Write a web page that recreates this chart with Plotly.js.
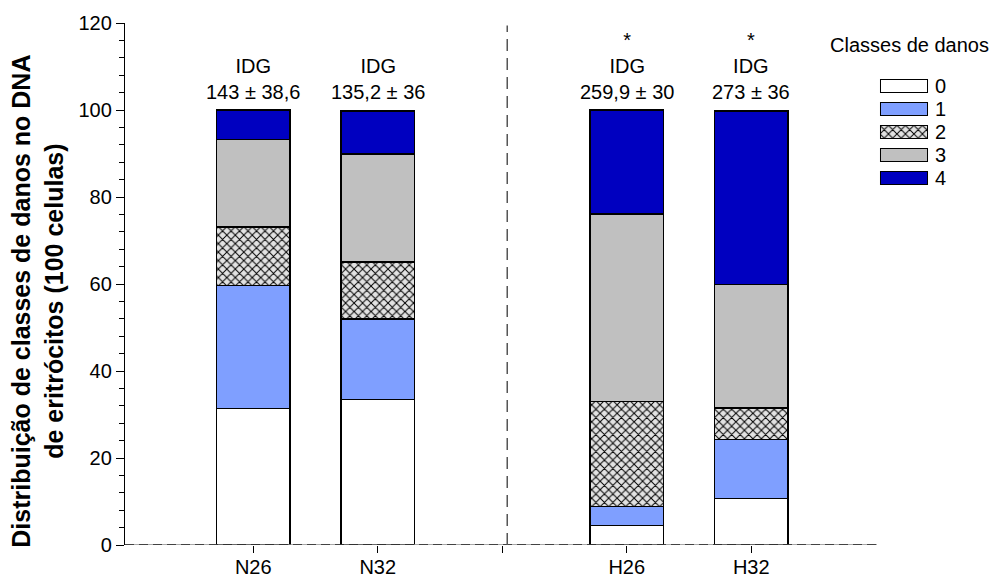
<!DOCTYPE html>
<html>
<head>
<meta charset="utf-8">
<script src="https://cdn.plot.ly/plotly-3.0.1.min.js"></script>
<style>
  html, body { margin: 0; padding: 0; background: #fff; }
  #chart { width: 995px; height: 580px; }
</style>
</head>
<body>
<div id="chart"></div>
<script>
// Groups shown on the x axis (position 2 is the empty gap between N and H groups)
const groups = ['N26', 'N32', 'H26', 'H32'];
const groupPos = [0, 1, 3, 4];
const tickPositions = [0, 1, 2, 3, 4];
const tickLabels = ['N26', 'N32', '', 'H26', 'H32'];

// Damage classes and their share of 100 cells per group
const classNames = ['0', '1', '2', '3', '4'];
const class0 = [31.4, 33.4, 4.5, 10.7];
const class1 = [28.2, 18.6, 4.3, 13.5];
const class2 = [13.5, 13.1, 24.2, 7.3];
const class3 = [20.1, 24.8, 43.1, 28.4];
const class4 = [6.8, 9.9, 23.9, 39.9];
const classValues = [class0, class1, class2, class3, class4];

// Genetic damage index (mean ± sd) and significance flags
const idgMean = [143, 135.2, 259.9, 273];
const idgSd = [38.6, 36, 30, 36];
const significant = [false, false, true, true];

const FONT = 'Arial, "Liberation Sans", Helvetica, sans-serif';

const fills = ['#ffffff', '#7f9fff', '#e2e2e2', '#c0c0c0', '#0000c0'];
const patterns = [null, null, {shape: 'x', bgcolor: '#e2e2e2', fgcolor: '#000000', size: 6, solidity: 0.3}, null, null];

function markerFor(i) {
  const m = {color: fills[i], line: {color: '#000000', width: 1.4}};
  if (patterns[i]) m.pattern = patterns[i];
  return m;
}

const traces = [];
classNames.forEach((name, i) => {
  traces.push({
    type: 'bar', name: name, x: groupPos, y: classValues[i],
    width: 0.59, marker: markerFor(i), xaxis: 'x', yaxis: 'y',
    hoverinfo: 'skip', showlegend: false
  });
});
// key swatches drawn as short horizontal bars in their own small axes
classNames.forEach((name, i) => {
  traces.push({
    type: 'bar', orientation: 'h', x: [1], y: [name], base: 0,
    width: 0.55, marker: markerFor(i), xaxis: 'x2', yaxis: 'y2',
    hoverinfo: 'skip', showlegend: false
  });
});

const fmt = v => String(v).replace('.', ',');
const annotations = groupPos.map((p, i) => ({
  x: p, y: 100, xref: 'x', yref: 'y', xanchor: 'center', yanchor: 'bottom',
  yshift: 5, showarrow: false,
  text: (significant[i] ? '*<br>' : '') + 'IDG<br>' + fmt(idgMean[i]) + ' ± ' + fmt(idgSd[i]),
  font: {family: FONT, size: 20, color: '#000'}
}));
annotations.push({
  x: -0.1, y: 0.466, xref: 'paper', yref: 'paper', xanchor: 'center', yanchor: 'middle',
  textangle: -90, showarrow: false,
  text: '<b>Distribuição de classes de danos no DNA</b><br><b>de eritrócitos (100 celulas)</b>',
  font: {family: FONT, size: 25, color: '#000'}
});
annotations.push({
  x: 0.9017, y: 0.957, xref: 'paper', yref: 'paper', xanchor: 'center', yanchor: 'middle',
  showarrow: false, text: 'Classes de danos',
  font: {family: FONT, size: 20, color: '#000'}
});

const layout = {
  width: 995, height: 580,
  margin: {l: 125, r: 0, t: 23, b: 35},
  paper_bgcolor: '#fff', plot_bgcolor: '#fff',
  barmode: 'stack', showlegend: false,
  font: {family: FONT, size: 20, color: '#000'},
  xaxis: {
    domain: [0, 0.8644], range: [-1.03, 5.01], showgrid: false, zeroline: false,
    showline: false, tickmode: 'array', tickvals: tickPositions, ticktext: tickLabels,
    ticks: 'outside', ticklen: 7, tickcolor: '#000', tickwidth: 1,
    ticklabelstandoff: -3,
    tickfont: {family: FONT, size: 20, color: '#000'}
  },
  yaxis: {
    range: [0, 120], showgrid: false, zeroline: false, showline: true,
    linecolor: '#000', linewidth: 1.2, dtick: 20, ticks: 'outside', ticklen: 8,
    tickcolor: '#000', tickwidth: 1,
    minor: {dtick: 4, ticks: 'outside', ticklen: 5, tickcolor: '#000', tickwidth: 1, showgrid: false},
    tickfont: {family: FONT, size: 20, color: '#000'}
  },
  xaxis2: {
    domain: [0.8678, 0.9230], range: [0, 1], anchor: 'y2',
    visible: false, fixedrange: true
  },
  yaxis2: {
    domain: [0.681, 0.9013], anchor: 'x2', side: 'right', type: 'category',
    categoryorder: 'array', categoryarray: classNames, autorange: 'reversed',
    tickmode: 'array', tickvals: classNames, ticktext: classNames,
    showgrid: false, zeroline: false, showline: false, ticks: '',
    ticklabelstandoff: 6,
    tickfont: {family: FONT, size: 20, color: '#000'}
  },
  shapes: [
    // baseline: grey rule with darker dashes over it
    {type: 'line', xref: 'x', yref: 'y', x0: -1.03, x1: 5.01, y0: 0, y1: 0,
     line: {color: '#8c8c8c', width: 1.5}},
    {type: 'line', xref: 'x', yref: 'y', x0: -1.03, x1: 5.01, y0: 0, y1: 0,
     line: {color: '#222', width: 1.5, dash: '9px,5px'}},
    // separator between the N and H groups
    {type: 'line', xref: 'x', yref: 'y', x0: 2.04, x1: 2.04, y0: 0, y1: 119.4,
     line: {color: '#555', width: 1.5, dash: '12px,7px'}}
  ],
  annotations: annotations
};

Plotly.newPlot('chart', traces, layout, {displayModeBar: false, staticPlot: true});
</script>
</body>
</html>
